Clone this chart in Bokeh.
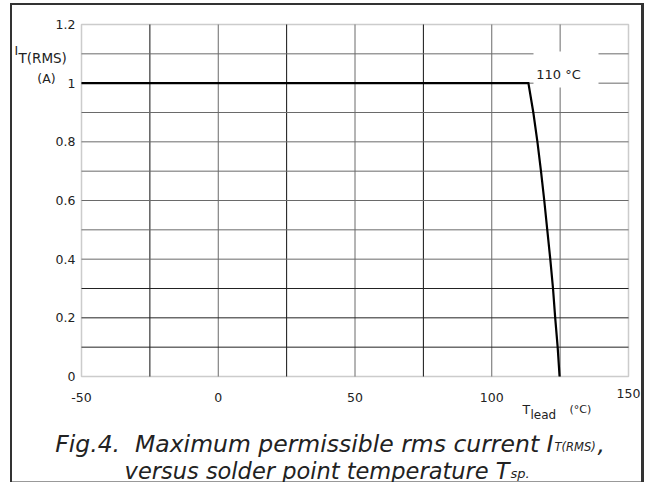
from bokeh.plotting import figure
from bokeh.models import Range1d, Label, BoxAnnotation
from bokeh.embed import file_html
from bokeh.resources import INLINE

# ---- data ----
temp_c = [-50, 113.4, 115.2, 116.7, 118.0, 119.2, 120.3, 121.4, 122.4, 123.2, 124.1, 124.8]
current_a = [1.0, 1.0, 0.9, 0.8, 0.7, 0.6, 0.5, 0.4, 0.3, 0.2, 0.1, 0.0]

X_MIN, X_MAX = -50, 150
Y_MIN, Y_MAX = 0.0, 1.2
x_ticks = [-50, 0, 50, 100]
x_tick_labels = ["-50", "0", "50", "100"]
x_last_tick = [150]
x_last_label = ["150"]
y_ticks = [0, 0.2, 0.4, 0.6, 0.8, 1.0, 1.2]
y_tick_labels = ["0", "0.2", "0.4", "0.6", "0.8", "1", "1.2"]

x_grid_light = [0, 50, 100, 125]
x_grid_dark = [-25, 25, 75]
y_grid_light = [0.4, 0.5, 0.6, 0.7, 0.8, 0.9, 1.0, 1.1]
y_grid_dark = [0.1, 0.2, 0.3]

corner_label = "110 \u00b0C"

FONT = "DejaVu Sans"
TXT = "#222222"
W, H = 644, 482

# canvas-pixel -> data helpers (plot area spans x 81..628, y 24..376 on the canvas)
FL, FW, FT, FH = 81.0, 547.0, 24.0, 352.0
def tx(px):
    return X_MIN + (px - FL) / FW * (X_MAX - X_MIN)
def iy(py):
    return Y_MAX - (py - FT) / FH * (Y_MAX - Y_MIN)

p = figure(width=W, height=H, output_backend="svg", toolbar_location=None,
           x_range=Range1d(tx(0), tx(W)), y_range=Range1d(iy(H), iy(0)),
           min_border=0, min_border_left=0, min_border_right=0,
           min_border_top=0, min_border_bottom=0)
p.axis.visible = False
p.grid.visible = False
p.outline_line_color = None
p.border_fill_color = None
p.background_fill_color = None
p.styles = {"box-shadow": ("inset 10px 0 0 white, inset 0 3px 0 white, "
                           "inset 12px 0 0 #333333, inset 0 5px 0 #333333, "
                           "inset -3px 0 0 #333333, inset 0 -1px 0 #999999"),
            "background-color": "white"}

# grid lines
p.segment(x0=x_grid_light, x1=x_grid_light, y0=[Y_MIN] * len(x_grid_light), y1=[Y_MAX] * len(x_grid_light),
          line_color="#6a6a6a", line_width=1)
p.segment(x0=x_grid_dark, x1=x_grid_dark, y0=[Y_MIN] * len(x_grid_dark), y1=[Y_MAX] * len(x_grid_dark),
          line_color="#111111", line_width=1)
p.segment(x0=[X_MIN] * len(y_grid_light), x1=[X_MAX] * len(y_grid_light), y0=y_grid_light, y1=y_grid_light,
          line_color="#6a6a6a", line_width=1)
p.segment(x0=[X_MIN] * len(y_grid_dark), x1=[X_MAX] * len(y_grid_dark), y0=y_grid_dark, y1=y_grid_dark,
          line_color="#222222", line_width=1)

# plot-area border
p.add_layout(BoxAnnotation(left=X_MIN, right=X_MAX, bottom=Y_MIN, top=Y_MAX, fill_alpha=0,
                           fill_color=None, line_color="#555555", line_width=1.5, level="underlay"))

# curve
p.line(temp_c, current_a, line_color="black", line_width=2.2, line_join="miter")

# tick labels
p.text(x=x_ticks, y=[iy(397)] * len(x_ticks), text=x_tick_labels, text_align="center",
       text_baseline="alphabetic", text_font={"value": FONT}, text_font_size="12.5px", text_color=TXT)
p.text(x=x_last_tick, y=[iy(392.5)], text=x_last_label, text_align="center",
       text_baseline="alphabetic", text_font={"value": FONT}, text_font_size="12.5px", text_color=TXT)
p.text(x=[tx(75)] * len(y_ticks), y=y_ticks, text=y_tick_labels, text_align="right",
       text_baseline="middle", text_font={"value": FONT}, text_font_size="12.5px", text_color=TXT)

# 110 °C label with white box
p.add_layout(BoxAnnotation(left=tx(533), right=tx(598), top=iy(51), bottom=iy(87),
                           fill_color="white", fill_alpha=1.0, line_color=None))
p.add_layout(Label(x=tx(558), y=iy(74), text=corner_label, text_align="center",
                   text_baseline="middle", text_font=FONT, text_font_size="13px", text_color=TXT))

def lab(**kw):
    kw.setdefault("text_font", FONT)
    kw.setdefault("text_color", TXT)
    kw.setdefault("text_baseline", "alphabetic")
    p.add_layout(Label(**kw))

# x axis title T_lead (°C)
lab(x=tx(522), y=iy(409), text="T", text_align="left", text_font_size="12.5px")
lab(x=tx(530), y=iy(414), text="lead", text_align="left", text_font_size="12px")
lab(x=tx(569), y=iy(409), text="(\u00b0C)", text_align="left", text_font_size="11px")

# y axis title I_T(RMS) (A)
lab(x=tx(14), y=iy(50), text="I", text_align="left", text_font_size="12.5px")
lab(x=tx(18), y=iy(57), text="T(RMS)", text_align="left", text_font_size="13.5px")
lab(x=tx(46), y=iy(78), text="(A)", text_align="center", text_font_size="12.5px")

# caption
lab(x=tx(553), y=iy(443), text="Fig.4.\u00a0 Maximum permissible rms current I",
    text_align="right", text_font_size="23.5px", text_font_style="italic")
lab(x=tx(554), y=iy(446.5), text="T(RMS)", text_align="left", text_font_size="11.5px", text_font_style="italic")
lab(x=tx(597), y=iy(443), text=",", text_align="left", text_font_size="23px", text_font_style="italic")
lab(x=tx(509), y=iy(470), text="versus solder point temperature T",
    text_align="right", text_font_size="22.5px", text_font_style="italic")
lab(x=tx(510), y=iy(473), text="sp.", text_align="left", text_font_size="13px", text_font_style="italic")

open("out.html", "w").write(file_html(p, INLINE))
